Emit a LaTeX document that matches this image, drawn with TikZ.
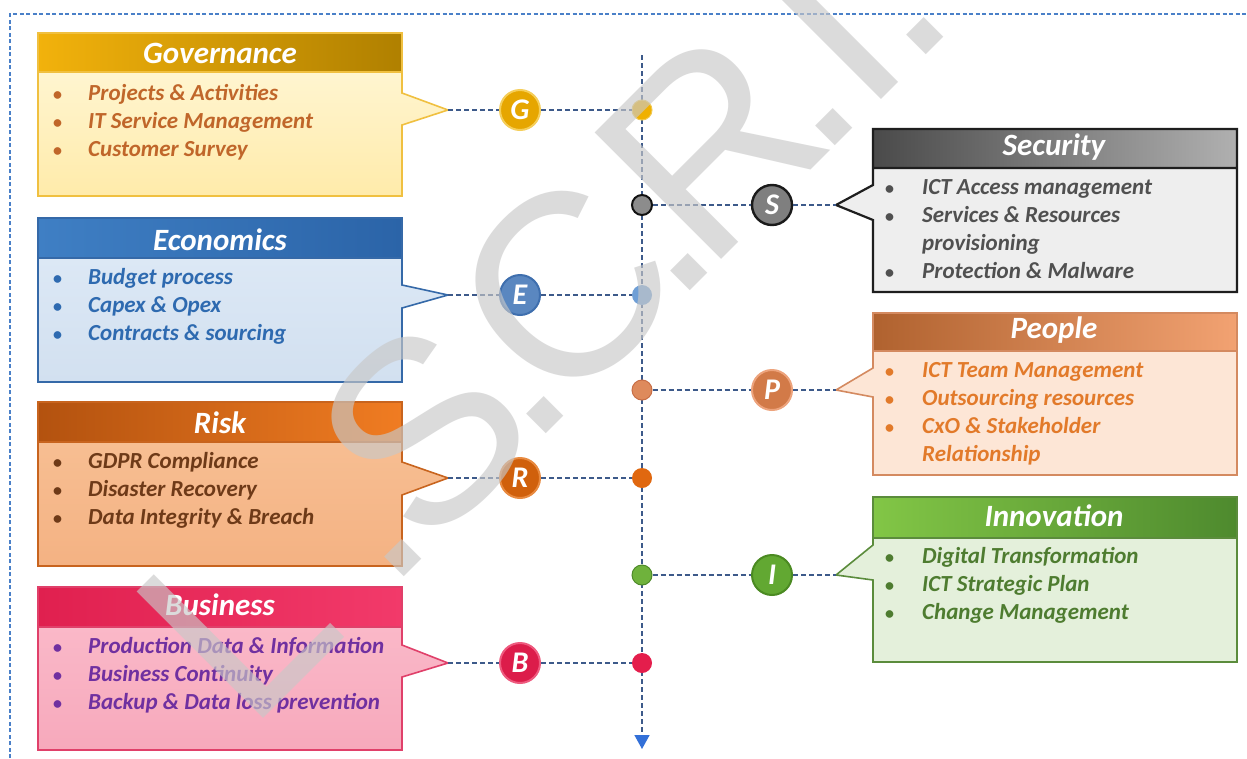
\documentclass[tikz,border=0pt]{standalone}
\usepackage{fontspec}
\setmainfont{Carlito}
\newfontfamily\wmfont{Liberation Sans}
\usetikzlibrary{arrows.meta}
\definecolor{govHa}{HTML}{F2B20C}\definecolor{govHb}{HTML}{B08000}
\definecolor{govBa}{HTML}{FFF5D0}\definecolor{govBb}{HTML}{FFEBAA}
\definecolor{govL}{HTML}{F0C040}\definecolor{govT}{HTML}{C0662A}
\definecolor{ecoHa}{HTML}{3F7FC4}\definecolor{ecoHb}{HTML}{2B64A8}
\definecolor{ecoBa}{HTML}{DCE8F5}\definecolor{ecoBb}{HTML}{D2E0F0}
\definecolor{ecoL}{HTML}{3569A8}\definecolor{ecoT}{HTML}{2E6AB0}
\definecolor{rskHa}{HTML}{B3520F}\definecolor{rskHb}{HTML}{F07C22}
\definecolor{rskBa}{HTML}{F7BE92}\definecolor{rskBb}{HTML}{F4B283}
\definecolor{rskL}{HTML}{C8641E}\definecolor{rskT}{HTML}{6E3A18}
\definecolor{busHa}{HTML}{E0204F}\definecolor{busHm}{HTML}{C01040}\definecolor{busHb}{HTML}{F23A6A}
\definecolor{busBa}{HTML}{FAB8C8}\definecolor{busBb}{HTML}{F7A9BC}
\definecolor{busL}{HTML}{E0406A}\definecolor{busT}{HTML}{7030A0}
\definecolor{secHa}{HTML}{4A4A4A}\definecolor{secHb}{HTML}{B0B0B0}
\definecolor{secB}{HTML}{EEEEEE}\definecolor{secL}{HTML}{1E1E1E}\definecolor{secT}{HTML}{505050}
\definecolor{pplHa}{HTML}{B0622F}\definecolor{pplHb}{HTML}{F2A272}
\definecolor{pplB}{HTML}{FDE6D6}\definecolor{pplL}{HTML}{D48A60}\definecolor{pplT}{HTML}{E27A2A}
\definecolor{innHa}{HTML}{82C646}\definecolor{innHb}{HTML}{4E8A2E}
\definecolor{innB}{HTML}{E4F0DB}\definecolor{innL}{HTML}{5B8C3C}\definecolor{innT}{HTML}{4E7C30}
\definecolor{lineblue}{HTML}{3D5A8A}\definecolor{arrowblue}{HTML}{3370D8}
\definecolor{framedash}{HTML}{4A80C8}\definecolor{wmgray}{HTML}{C8C8C8}
\begin{document}
\begin{tikzpicture}[x=1pt,y=-1pt,
  hdr/.style={anchor=base,inner sep=0,text=white,font=\fontsize{31}{31}\selectfont\bfseries\itshape},
  itm/.style={anchor=base west,inner sep=0,font=\fontsize{23}{28}\selectfont\bfseries\itshape},
  bul/.style={anchor=base west,inner sep=0,font=\fontsize{18}{28}\selectfont\bfseries},
  dashln/.style={draw=lineblue,line width=1.6pt,dash pattern=on 5pt off 3pt},
  letter/.style={circle,minimum size=40pt,inner sep=0,line width=2pt,text=white,font=\fontsize{30}{30}\selectfont\bfseries\itshape},
  axdot/.style={circle,minimum size=20pt,inner sep=0,line width=1pt},
  wm/.style={anchor=base,inner sep=0,rotate=45,text=wmgray,text opacity=0.65,font=\wmfont\fontsize{260}{260}\selectfont},
  outline/.style={line width=1.6pt}]
\useasboundingbox (0,0) rectangle (1247,758);
\fill[white] (0,0) rectangle (1247,758);
% frame
\draw[framedash,line width=1.5pt,dash pattern=on 4pt off 2.5pt] (10,758) -- (10,14) -- (1247,14);
% axis
\coordinate (axTop) at (642,55);
\coordinate (axBot) at (642,749);
\draw[dashln,-{Triangle[width=15pt,length=14pt,fill=arrowblue,color=arrowblue]}] (axTop) -- (axBot);

% ---------- Governance
\shade[top color=govBa,bottom color=govBb] (38,72) -- (402,72) -- (402,93) -- (448,110) -- (402,125) -- (402,196) -- (38,196) -- cycle;
\shade[left color=govHa,right color=govHb] (38,33) rectangle (402,72);
\draw[govL,outline] (38,33) -- (402,33) -- (402,93) -- (448,110) -- (402,125) -- (402,196) -- (38,196) -- cycle (38,72) -- (402,72);
\node[hdr] (govTitle) at (220,63) {Governance};
\node[bul,text=govT] (govb1) at (53,100) {•};
\node[itm,text=govT] (govi1) at (88,100) {Projects \& Activities};
\node[bul,text=govT] (govb2) at (53,128) {•};
\node[itm,text=govT] (govi2) at (88,128) {IT Service Management};
\node[bul,text=govT] (govb3) at (53,156) {•};
\node[itm,text=govT] (govi3) at (88,156) {Customer Survey};

% ---------- Economics
\shade[top color=ecoBa,bottom color=ecoBb] (38,258) -- (402,258) -- (402,285) -- (448,295) -- (402,308) -- (402,382) -- (38,382) -- cycle;
\shade[left color=ecoHa,right color=ecoHb] (38,218) rectangle (402,258);
\draw[ecoL,outline] (38,218) -- (402,218) -- (402,285) -- (448,295) -- (402,308) -- (402,382) -- (38,382) -- cycle (38,258) -- (402,258);
\node[hdr] (ecoTitle) at (220,250) {Economics};
\node[bul,text=ecoT] (ecob1) at (53,284) {•};
\node[itm,text=ecoT] (ecoi1) at (88,284) {Budget process};
\node[bul,text=ecoT] (ecob2) at (53,312) {•};
\node[itm,text=ecoT] (ecoi2) at (88,312) {Capex \& Opex};
\node[bul,text=ecoT] (ecob3) at (53,340) {•};
\node[itm,text=ecoT] (ecoi3) at (88,340) {Contracts \& sourcing};

% ---------- Risk
\shade[top color=rskBa,bottom color=rskBb] (38,442) -- (402,442) -- (402,462) -- (448,478) -- (402,495) -- (402,566) -- (38,566) -- cycle;
\shade[left color=rskHa,right color=rskHb] (38,402) rectangle (402,442);
\draw[rskL,outline] (38,402) -- (402,402) -- (402,462) -- (448,478) -- (402,495) -- (402,566) -- (38,566) -- cycle (38,442) -- (402,442);
\node[hdr] (rskTitle) at (220,433) {Risk};
\node[bul,text=rskT] (rskb1) at (53,468) {•};
\node[itm,text=rskT] (rski1) at (88,468) {GDPR Compliance};
\node[bul,text=rskT] (rskb2) at (53,496) {•};
\node[itm,text=rskT] (rski2) at (88,496) {Disaster Recovery};
\node[bul,text=rskT] (rskb3) at (53,524) {•};
\node[itm,text=rskT] (rski3) at (88,524) {Data Integrity \& Breach};

% ---------- Business
\shade[top color=busBa,bottom color=busBb] (38,627) -- (402,627) -- (402,645) -- (448,663) -- (402,677) -- (402,750) -- (38,750) -- cycle;
\shade[left color=busHa,middle color=busHm,right color=busHb] (38,587) rectangle (402,627);
\draw[busL,outline] (38,587) -- (402,587) -- (402,645) -- (448,663) -- (402,677) -- (402,750) -- (38,750) -- cycle (38,627) -- (402,627);
\node[hdr] (busTitle) at (220,615) {Business};
\node[bul,text=busT] (busb1) at (53,653) {•};
\node[itm,text=busT] (busi1) at (88,653) {Production Data \& Information};
\node[bul,text=busT] (busb2) at (53,681) {•};
\node[itm,text=busT] (busi2) at (88,681) {Business Continuity};
\node[bul,text=busT] (busb3) at (53,709) {•};
\node[itm,text=busT] (busi3) at (88,709) {Backup \& Data loss prevention};

% ---------- Security
\fill[secB] (873,168) -- (1237,168) -- (1237,292) -- (873,292) -- (873,220) -- (836,205) -- (873,185) -- cycle;
\shade[left color=secHa,right color=secHb] (873,129) rectangle (1237,168);
\draw[secL,line width=2.2pt] (873,129) -- (1237,129) -- (1237,292) -- (873,292) -- (873,220) -- (836,205) -- (873,185) -- cycle (873,168) -- (1237,168);
\node[hdr] (secTitle) at (1054,155) {Security};
\node[bul,text=secT] (secb1) at (885,194) {•};
\node[itm,text=secT] (seci1) at (922,194) {ICT Access management};
\node[bul,text=secT] (secb2) at (885,222) {•};
\node[itm,text=secT] (seci2) at (922,222) {Services \& Resources};
\node[itm,text=secT] (seci2b) at (922,250) {provisioning};
\node[bul,text=secT] (secb3) at (885,278) {•};
\node[itm,text=secT] (seci3) at (922,278) {Protection \& Malware};

% ---------- People
\fill[pplB] (873,351) -- (1237,351) -- (1237,475) -- (873,475) -- (873,397) -- (836,390) -- (873,368) -- cycle;
\shade[left color=pplHa,right color=pplHb] (873,313) rectangle (1237,351);
\draw[pplL,outline] (873,313) -- (1237,313) -- (1237,475) -- (873,475) -- (873,397) -- (836,390) -- (873,368) -- cycle (873,351) -- (1237,351);
\node[hdr] (pplTitle) at (1054,338) {People};
\node[bul,text=pplT] (pplb1) at (885,377) {•};
\node[itm,text=pplT] (ppli1) at (922,377) {ICT Team Management};
\node[bul,text=pplT] (pplb2) at (885,405) {•};
\node[itm,text=pplT] (ppli2) at (922,405) {Outsourcing resources};
\node[bul,text=pplT] (pplb3) at (885,433) {•};
\node[itm,text=pplT] (ppli3) at (922,433) {CxO \& Stakeholder};
\node[itm,text=pplT] (ppli3b) at (922,461) {Relationship};

% ---------- Innovation
\fill[innB] (873,538) -- (1237,538) -- (1237,662) -- (873,662) -- (873,580) -- (836,575) -- (873,545) -- cycle;
\shade[left color=innHa,right color=innHb] (873,497) rectangle (1237,538);
\draw[innL,outline] (873,497) -- (1237,497) -- (1237,662) -- (873,662) -- (873,580) -- (836,575) -- (873,545) -- cycle (873,538) -- (1237,538);
\node[hdr] (innTitle) at (1054,526) {Innovation};
\node[bul,text=innT] (innb1) at (885,563) {•};
\node[itm,text=innT] (inni1) at (922,563) {Digital Transformation};
\node[bul,text=innT] (innb2) at (885,591) {•};
\node[itm,text=innT] (inni2) at (922,591) {ICT Strategic Plan};
\node[bul,text=innT] (innb3) at (885,619) {•};
\node[itm,text=innT] (inni3) at (922,619) {Change Management};

% ---------- pointer tips
\coordinate (govTip) at (448,110);
\coordinate (ecoTip) at (448,295);
\coordinate (rskTip) at (448,478);
\coordinate (busTip) at (448,663);
\coordinate (secTip) at (836,205);
\coordinate (pplTip) at (836,390);
\coordinate (innTip) at (836,575);

% ---------- circles and dots
\node[letter,fill={rgb,255:red,230;green,166;blue,0},draw={rgb,255:red,245;green,206;blue,90}] (G) at (520,110) {G};
\node[letter,fill={rgb,255:red,90;green,135;blue,192},draw={rgb,255:red,63;green,111;blue,174}] (E) at (520,295) {E};
\node[letter,fill={rgb,255:red,208;green,96;blue,12},draw={rgb,255:red,232;green,138;blue,64}] (R) at (520,478) {R};
\node[letter,fill={rgb,255:red,220;green,28;blue,74},draw={rgb,255:red,238;green,90;blue,126}] (B) at (520,663) {B};
\node[letter,fill={rgb,255:red,127;green,127;blue,127},draw={rgb,255:red,26;green,26;blue,26},line width=2.4pt] (S) at (772,205) {S};
\node[letter,fill={rgb,255:red,210;green,122;blue,72},draw={rgb,255:red,237;green,163;blue,124}] (P) at (772,390) {P};
\node[letter,fill={rgb,255:red,98;green,168;blue,50},draw={rgb,255:red,75;green,138;blue,34}] (I) at (772,575) {I};

\node[axdot,fill={rgb,255:red,240;green,176;blue,0},draw={rgb,255:red,240;green,200;blue,80}] (gDot) at (642,110) {};
\node[axdot,fill={rgb,255:red,140;green,140;blue,140},draw={rgb,255:red,17;green,17;blue,17},line width=2pt] (sDot) at (642,205) {};
\node[axdot,fill={rgb,255:red,111;green,159;blue,214}] (eDot) at (642,295) {};
\node[axdot,fill={rgb,255:red,222;green,138;blue,92},draw={rgb,255:red,200;green,110;blue,70}] (pDot) at (642,390) {};
\node[axdot,fill={rgb,255:red,224;green,104;blue,16}] (rDot) at (642,478) {};
\node[axdot,fill={rgb,255:red,111;green,178;blue,60},draw={rgb,255:red,78;green,138;blue,42}] (iDot) at (642,575) {};
\node[axdot,fill={rgb,255:red,228;green,30;blue,76}] (bDot) at (642,663) {};

% ---------- connectors
\draw[dashln] (govTip) -- (G); \draw[dashln] (G) -- (gDot);
\draw[dashln] (ecoTip) -- (E); \draw[dashln] (E) -- (eDot);
\draw[dashln] (rskTip) -- (R); \draw[dashln] (R) -- (rDot);
\draw[dashln] (busTip) -- (B); \draw[dashln] (B) -- (bDot);
\draw[dashln] (sDot) -- (S); \draw[dashln] (S) -- (secTip);
\draw[dashln] (pDot) -- (P); \draw[dashln] (P) -- (pplTip);
\draw[dashln] (iDot) -- (I); \draw[dashln] (I) -- (innTip);

% ---------- watermark
\node[wm] (wmL) at (300,682) {L};
\node[wm] (wmd1) at (413,568) {.};
\node[wm] (wmS) at (487,494) {S};
\node[wm] (wmd2) at (555,425) {.};
\node[wm] (wmC) at (628,352) {C};
\node[wm] (wmd3) at (699,282) {.};
\node[wm] (wmR) at (773,208) {R};
\node[wm] (wmd4) at (844,137) {.};
\node[wm] (wmI) at (890,91) {I};
\node[wm] (wmd5) at (935,46) {.};
\end{tikzpicture}
\end{document}
